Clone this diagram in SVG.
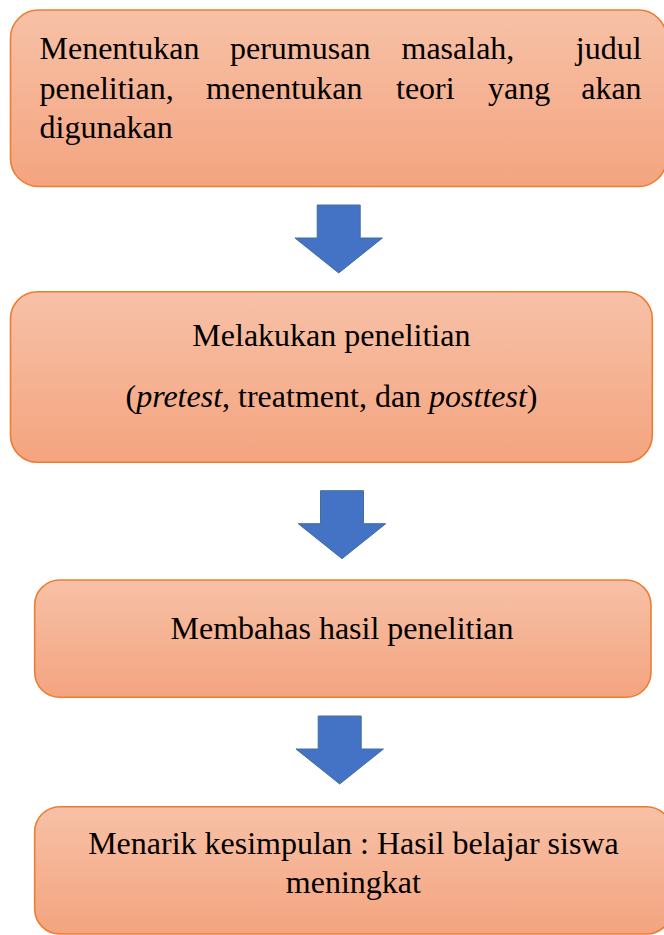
<svg xmlns="http://www.w3.org/2000/svg" xmlns:xlink="http://www.w3.org/1999/xlink" width="664" height="935" viewBox="0 0 664 935">
  <defs>
    <linearGradient id="boxFill" x1="0" y1="0" x2="0" y2="1">
      <stop offset="0" stop-color="#F7C1A7"/>
      <stop offset="1" stop-color="#F4A47F"/>
    </linearGradient>
    <path id="downArrow" d="M -21.5 0 H 21.5 V 33 H 43.75 L 0 68 L -43.75 33 H -21.5 Z"/>
    <style>
      .box { fill: url(#boxFill); stroke: #ED7D31; stroke-width: 1.6; }
      .lbl { font-family: "Liberation Serif", "Times New Roman", serif; font-size: 32px; fill: #000000; }
      .c { text-anchor: middle; }
      .it { font-style: italic; }
      .arrow { fill: #4472C4; stroke: #41719C; stroke-width: 1; }
    </style>
  </defs>
  <rect width="664" height="935" fill="#FFFFFF"/>

  <g id="node1">
    <rect class="box" x="10.5" y="10" width="656" height="176.5" rx="28" ry="28"/>
    <text class="lbl" y="59"><tspan x="39.5">Menentukan</tspan><tspan x="230">perumusan</tspan><tspan x="401.5">masalah,</tspan><tspan x="575.8">judul</tspan></text>
    <text class="lbl" y="98.5"><tspan x="39.5">penelitian,</tspan><tspan x="206">menentukan</tspan><tspan x="396">teori</tspan><tspan x="488">yang</tspan><tspan x="581.2">akan</tspan></text>
    <text class="lbl" x="39.5" y="138">digunakan</text>
  </g>

  <g id="node2">
    <rect class="box" x="10.5" y="291.7" width="641.8" height="170.6" rx="27" ry="27"/>
    <text class="lbl c" x="331.4" y="345.7">Melakukan penelitian</text>
    <text class="lbl c" x="331.5" y="406.7">(<tspan class="it">pretest</tspan>, treatment, dan <tspan class="it">posttest</tspan>)</text>
  </g>

  <g id="node3">
    <rect class="box" x="34.7" y="580" width="616.3" height="117.3" rx="25" ry="25"/>
    <text class="lbl c" x="342" y="639">Membahas hasil penelitian</text>
  </g>

  <g id="node4">
    <rect class="box" x="34.7" y="806.7" width="637" height="127.3" rx="25" ry="25"/>
    <text class="lbl c" x="353.4" y="854">Menarik kesimpulan : Hasil belajar siswa</text>
    <text class="lbl c" x="353.4" y="892.7">meningkat</text>
  </g>

  <g id="connectors">
    <use class="arrow" xlink:href="#downArrow" href="#downArrow" transform="translate(338.7 205)"/>
    <use class="arrow" xlink:href="#downArrow" href="#downArrow" transform="translate(342 490.7)"/>
    <use class="arrow" xlink:href="#downArrow" href="#downArrow" transform="translate(339.7 716)"/>
  </g>
</svg>
